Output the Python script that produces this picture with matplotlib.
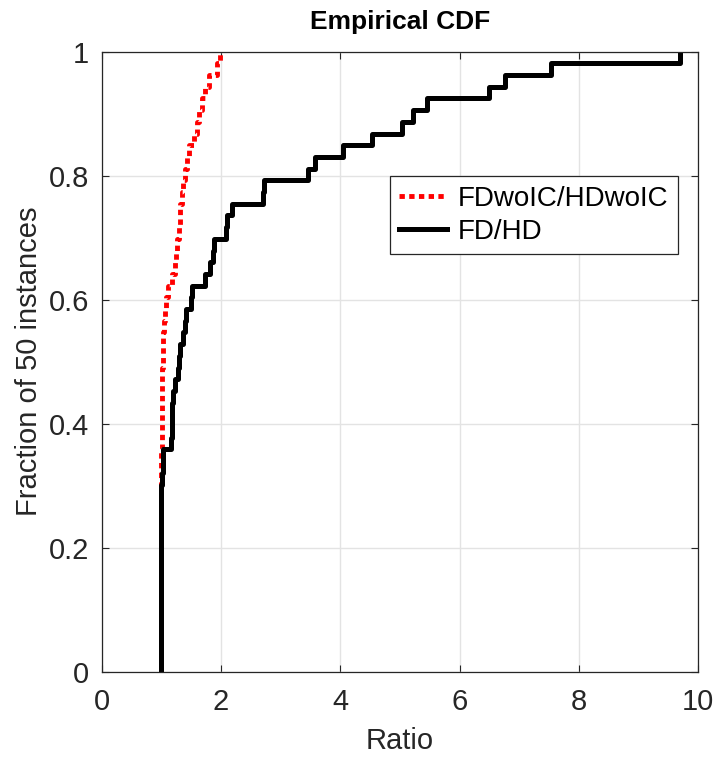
import matplotlib
matplotlib.use('Agg')
import matplotlib.pyplot as plt
import numpy as np

# ratios per instance
ratio_wo_ic = [1.0, 1.0, 1.0, 1.0, 1.0, 1.0, 1.0, 1.0, 1.0, 1.0,
               1.0, 1.0, 1.0, 1.0, 1.0, 1.0, 1.0, 1.0, 1.003, 1.005,
               1.006, 1.008, 1.01, 1.012, 1.015, 1.018, 1.02, 1.025, 1.03, 1.04,
               1.06, 1.08, 1.12, 1.18, 1.23, 1.25, 1.27, 1.29, 1.31, 1.32,
               1.34, 1.36, 1.40, 1.43, 1.46, 1.55, 1.60, 1.64, 1.69, 1.74,
               1.80, 1.94, 1.99]
ratio_fd_hd = [1.0, 1.0, 1.0, 1.0, 1.0, 1.0, 1.0, 1.0, 1.0, 1.0,
               1.0, 1.0, 1.0, 1.0, 1.0, 1.0, 1.01, 1.02, 1.03, 1.17,
               1.175, 1.18, 1.185, 1.19, 1.23, 1.28, 1.30, 1.32, 1.37, 1.40,
               1.42, 1.50, 1.51, 1.73, 1.82, 1.86, 1.88, 2.08, 2.10, 2.18,
               2.70, 2.72, 3.46, 3.58, 4.05, 4.54, 5.03, 5.22, 5.45, 6.50,
               6.76, 7.54, 9.69]

labels = ['FDwoIC/HDwoIC', 'FD/HD']
x_ticks = [0, 2, 4, 6, 8, 10]
y_ticks = [0, 0.2, 0.4, 0.6, 0.8, 1]
y_tick_labels = ['0', '0.2', '0.4', '0.6', '0.8', '1']

dark = '#262626'
plt.rcParams['font.family'] = ['Liberation Sans', 'DejaVu Sans']


def ecdf_steps(values):
    """Return stair coordinates of the empirical CDF of values"""
    x = np.sort(np.asarray(values, dtype=float))
    f = np.arange(1, len(x) + 1) / len(x)
    return np.r_[x[0], x], np.r_[0.0, f]


fig = plt.figure(figsize=(7.16, 7.57), dpi=100)
ax = fig.add_axes([0.142, 0.1127, 0.833, 0.819])

xr, fr = ecdf_steps(ratio_wo_ic)
xb, fb = ecdf_steps(ratio_fd_hd)
ax.step(xr, fr, where='post', color='red', lw=3.5,
        linestyle=(0, (1.1, 0.9)), label=labels[0])
ax.step(xb, fb, where='post', color='black', lw=3.6, label=labels[1])

ax.set_xlim(0, 10)
ax.set_ylim(0, 1)
ax.set_xticks(x_ticks)
ax.set_yticks(y_ticks)
ax.set_yticklabels(y_tick_labels)
ax.grid(True, color='#e3e3e3', lw=1)
ax.set_axisbelow(True)
ax.tick_params(direction='in', length=5, width=0.8, colors=dark,
               labelsize=21, top=True, right=True)
ax.tick_params(axis='x', pad=12)
ax.tick_params(axis='y', pad=9)
for s in ax.spines.values():
    s.set_color(dark)
    s.set_linewidth(0.9)

ax.set_xlabel('Ratio', fontsize=21, color=dark, labelpad=8)
ax.set_ylabel('Fraction of 50 instances', fontsize=21, color=dark)
ax.set_title('Empirical CDF', fontsize=19, fontweight='bold', pad=16)

leg = ax.legend(loc='upper right', bbox_to_anchor=(0.947, 0.7675),
                bbox_transform=fig.transFigure, fontsize=20, fancybox=False,
                framealpha=1, handlelength=1.7, handletextpad=0.4,
                labelspacing=0.25, borderpad=0.35, borderaxespad=0)
leg.get_frame().set_edgecolor(dark)
leg.get_frame().set_linewidth(0.9)

fig.savefig('out.png', dpi=100)
